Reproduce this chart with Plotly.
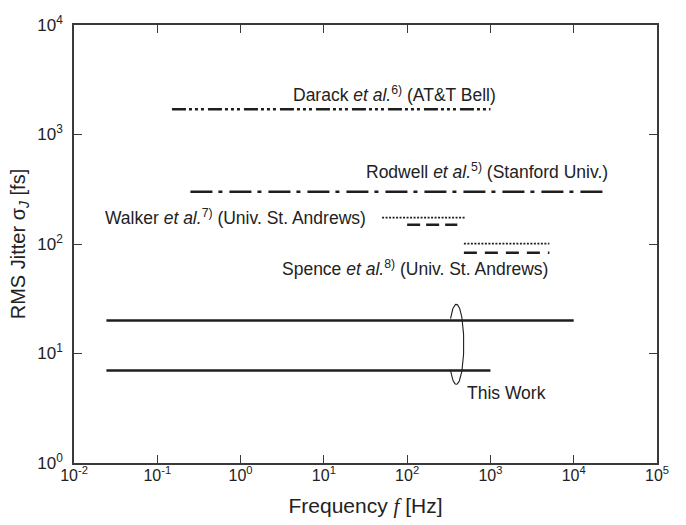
import numpy as np
import plotly.graph_objects as go

# ---- data ----
darack_x = [0.15, 1000]
darack_y = [1700, 1700]
rodwell_x = [0.25, 25000]
rodwell_y = [300, 300]
walker_dot_x = [50, 510]
walker_dot_y = [174, 174]
walker_dash_x = [100, 400]
walker_dash_y = [150, 150]
spence_dot_x = [480, 5100]
spence_dot_y = [101, 101]
spence_dash_x = [480, 5100]
spence_dash_y = [83, 83]
work_hi_x = [0.0245, 10000]
work_hi_y = [20, 20]
work_lo_x = [0.0245, 1000]
work_lo_y = [7, 7]

x_tickvals = [1e-2, 1e-1, 1e0, 1e1, 1e2, 1e3, 1e4, 1e5]
x_ticktext = ["10<sup>-2</sup>", "10<sup>-1</sup>", "10<sup>0</sup>", "10<sup>1</sup>",
              "10<sup>2</sup>", "10<sup>3</sup>", "10<sup>4</sup>", "10<sup>5</sup>"]
y_tickvals = [1e0, 1e1, 1e2, 1e3, 1e4]
y_ticktext = ["10<sup>0</sup>", "10<sup>1</sup>", "10<sup>2</sup>", "10<sup>3</sup>", "10<sup>4</sup>"]

LC = "#1e1e1e"
FONT = "Liberation Sans, Arial, sans-serif"

fig = go.Figure()

def seg(x, y, dash, width=2.5):
    fig.add_trace(go.Scatter(x=x, y=y, mode="lines",
                             line=dict(color=LC, width=width, dash=dash),
                             showlegend=False, hoverinfo="skip"))

seg(darack_x, darack_y, "14px,3px,3px,3px,3px,3px,3px,4px")
seg(rodwell_x, rodwell_y, "22px,6px,4px,7px")
seg(walker_dot_x, walker_dot_y, "2px,1.5px", 1.8)
seg(walker_dash_x, walker_dash_y, "13px,6px")
seg(spence_dot_x, spence_dot_y, "2px,1.5px", 1.8)
seg(spence_dash_x, spence_dash_y, "13px,8px")
seg(work_hi_x, work_hi_y, "solid", 2.6)
seg(work_lo_x, work_lo_y, "solid", 2.6)

# bracket ellipse around "This Work" lines (decoration)
t = np.linspace(np.deg2rad(140), np.deg2rad(-140), 80)
cx, cy, a, b = 2.59, 1.084, 0.09, 0.365
fig.add_trace(go.Scatter(x=10 ** (cx + a * np.cos(t)), y=10 ** (cy + b * np.sin(t)),
                         mode="lines", line=dict(color=LC, width=1.1),
                         showlegend=False, hoverinfo="skip"))

ann_font = dict(family=FONT, size=17.5, color="#222")
anns = [
    dict(x=0.61, y=3.374, text="Darack <i>et al.</i><sup>6)</sup> (AT&amp;T Bell)", xanchor="left"),
    dict(x=4.43, y=2.665, text="Rodwell <i>et al.</i><sup>5)</sup> (Stanford Univ.)", xanchor="right"),
    dict(x=1.526, y=2.244, text="Walker <i>et al.</i><sup>7)</sup> (Univ. St. Andrews)", xanchor="right"),
    dict(x=3.712, y=1.778, text="Spence <i>et al.</i><sup>8)</sup> (Univ. St. Andrews)", xanchor="right"),
    dict(x=2.69, y=0.636, text="This Work", xanchor="left"),
]
for an in anns:
    fig.add_annotation(xref="x", yref="y", showarrow=False, yanchor="middle",
                       font=ann_font, **an)

axis_common = dict(type="log", showgrid=False, zeroline=False, showline=True,
                   automargin=False,
                   linecolor="#3a3a3a", linewidth=1.6, mirror="ticks",
                   ticks="inside", ticklen=8, tickwidth=1.3, tickcolor="#3a3a3a")

fig.update_xaxes(range=[-2, 5], tickvals=x_tickvals, ticktext=x_ticktext,
                 ticklabelstandoff=-3,
                 tickfont=dict(family=FONT, size=16, color="#222"),
                 title=dict(text="Frequency <span style='font-family:Liberation Serif'><i>f</i></span> [Hz]",
                            font=dict(family=FONT, size=21, color="#222"), standoff=15),
                 **axis_common)
fig.update_yaxes(range=[0, 4], tickvals=y_tickvals, ticktext=y_ticktext,
                 ticklabelstandoff=6,
                 tickfont=dict(family=FONT, size=17, color="#222"),
                 title=dict(text="RMS Jitter σ<sub><i>J</i></sub> [fs]",
                            font=dict(family=FONT, size=20, color="#222"), standoff=6),
                 **axis_common)

fig.update_layout(width=686, height=525, plot_bgcolor="white", paper_bgcolor="white",
                  margin=dict(l=74, r=29, t=25, b=62), showlegend=False)

fig.write_html("out.html", config={"displayModeBar": False},
               post_script="document.body.style.margin='0';document.body.style.padding='0';")
